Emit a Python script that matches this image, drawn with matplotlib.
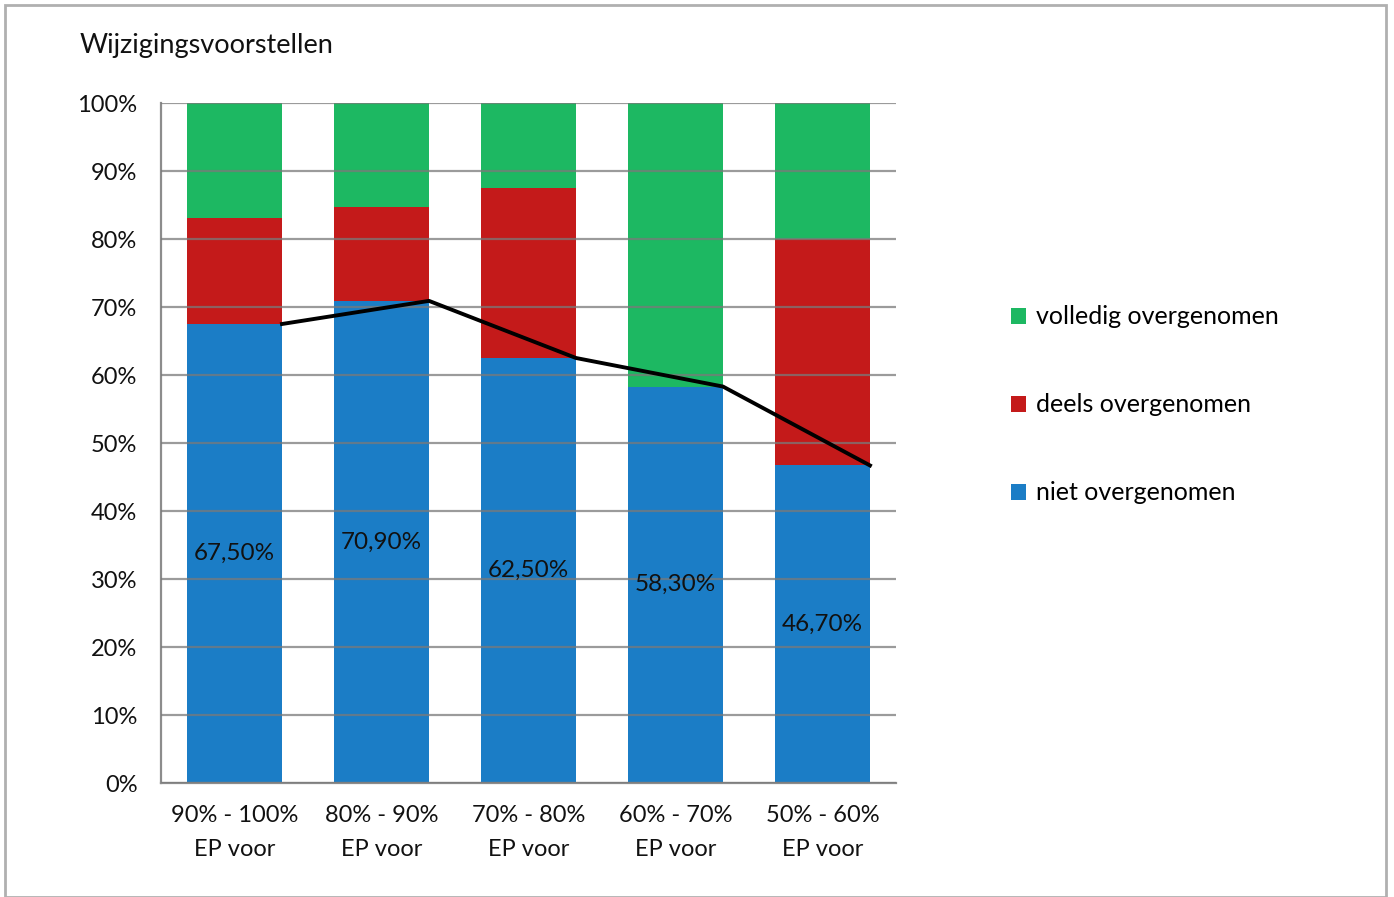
import matplotlib.pyplot as plt
import numpy as np
from matplotlib.patches import Rectangle

categories = ['90% - 100%\nEP voor', '80% - 90%\nEP voor', '70% - 80%\nEP voor',
              '60% - 70%\nEP voor', '50% - 60%\nEP voor']
niet = [67.5, 70.9, 62.5, 58.3, 46.7]
deels = [15.6, 13.8, 25.0, 0.0, 33.3]
volledig = [16.9, 15.3, 12.5, 41.7, 20.0]
labels = ['67,50%', '70,90%', '62,50%', '58,30%', '46,70%']

c_blue = '#1b7dc6'
c_red = '#c41a1a'
c_green = '#1db862'

plt.rcParams['font.family'] = ['Lato', 'DejaVu Sans']

fig = plt.figure(figsize=(13.94, 8.97), dpi=100)
fig.patches.append(Rectangle((5/1394, 0), 1381/1394, 1 - 5/897, transform=fig.transFigure,
                             fill=False, edgecolor='#b0b0b0', linewidth=2))
ax = fig.add_axes([161/1394, 1 - 783/897, 735/1394, 680/897])

x = np.arange(len(categories))
w = 0.646
niet = np.array(niet)
deels = np.array(deels)
volledig = np.array(volledig)
b1 = ax.bar(x, niet, w, color=c_blue, label='niet overgenomen', zorder=1)
b2 = ax.bar(x, deels, w, bottom=niet, color=c_red, label='deels overgenomen', zorder=1)
b3 = ax.bar(x, volledig, w, bottom=niet + deels, color=c_green, label='volledig overgenomen', zorder=1)

ax.plot(x + w / 2, niet, color='black', linewidth=2.8, zorder=4)

for i in range(len(x)):
    ax.text(x[i], niet[i] / 2, labels[i], ha='center', va='center', fontsize=17.5, color='#111111', zorder=5)

ax.set_xlim(-0.5, 4.5)
ax.set_ylim(0, 100)
ax.set_yticks(np.arange(0, 101, 10))
ax.set_yticklabels([f'{v}%' for v in range(0, 101, 10)])
ax.set_xticks(x)
ax.set_xticklabels(categories, linespacing=1.75)
ax.yaxis.grid(True, color='#7a7a7a', linewidth=1.6, alpha=0.75, zorder=3)
ax.set_axisbelow(False)
for s in ['top', 'right']:
    ax.spines[s].set_visible(False)
ax.spines['left'].set_color('#8c8c8c')
ax.spines['bottom'].set_color('#8c8c8c')
ax.spines['left'].set_linewidth(1.6)
ax.spines['bottom'].set_linewidth(1.6)
ax.tick_params(axis='both', length=0, labelsize=17, colors='#111111')
ax.tick_params(axis='y', pad=17)
ax.tick_params(axis='x', pad=16)

fig.text(80/1394, 1 - 45/897, 'Wijzigingsvoorstellen', fontsize=19.5, va='center', ha='left', color='#111111')

leg = fig.legend(handles=[b3, b2, b1], loc='upper left', bbox_to_anchor=(988/1394, 1 - 283/897),
                 frameon=False, fontsize=18, handlelength=0.6, handleheight=0.6,
                 handletextpad=0.4, labelspacing=2.6)

fig.savefig('out.png', dpi=100)
